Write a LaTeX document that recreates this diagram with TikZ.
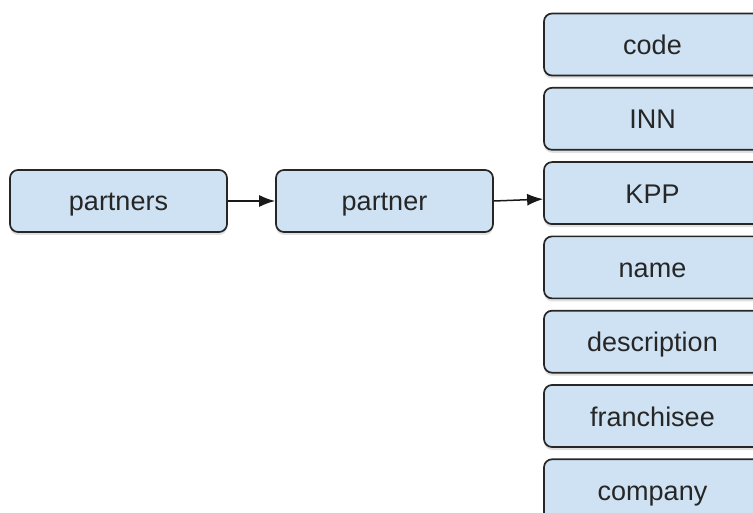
\documentclass[tikz,border=0pt]{standalone}
\usepackage{fontspec}
\setmainfont{Liberation Sans}
\usetikzlibrary{arrows.meta,shadows}
\definecolor{boxblue}{HTML}{CFE2F3}

\begin{document}
\begin{tikzpicture}[x=1pt,y=-1pt,
  fieldbox/.style={draw=black!85, line width=1.7pt, fill=boxblue, rounded corners=8pt,
    minimum width=217pt, minimum height=62pt, inner sep=0pt,
    text height=21pt, text depth=1pt,
    font=\fontsize{27}{30}\selectfont, text=black!85,
    drop shadow={shadow xshift=0pt, shadow yshift=-3pt, opacity=0.12, fill=black}},
  link/.style={-{Latex[length=16pt,width=12pt]}, line width=1.5pt, draw=black!90}]
  \useasboundingbox (0,0) rectangle (753,513);
  \clip (0,0) rectangle (753,513);

  \node[fieldbox] (partners) at (118.5,201) {partners};
  \node[fieldbox] (partner) at (384.5,201) {partner};

  % fields of one partner
  \foreach \field [count=\i] in {code,INN,KPP,name,description,franchisee,company}
    \node[fieldbox] (f\i) at (652.5,{44.5+74.3*(\i-1)}) {\field};

  \draw[link] (partners) -- (partner);
  \draw[link] (partner.east) -- ([yshift=-6pt]f3.west);
\end{tikzpicture}
\end{document}
